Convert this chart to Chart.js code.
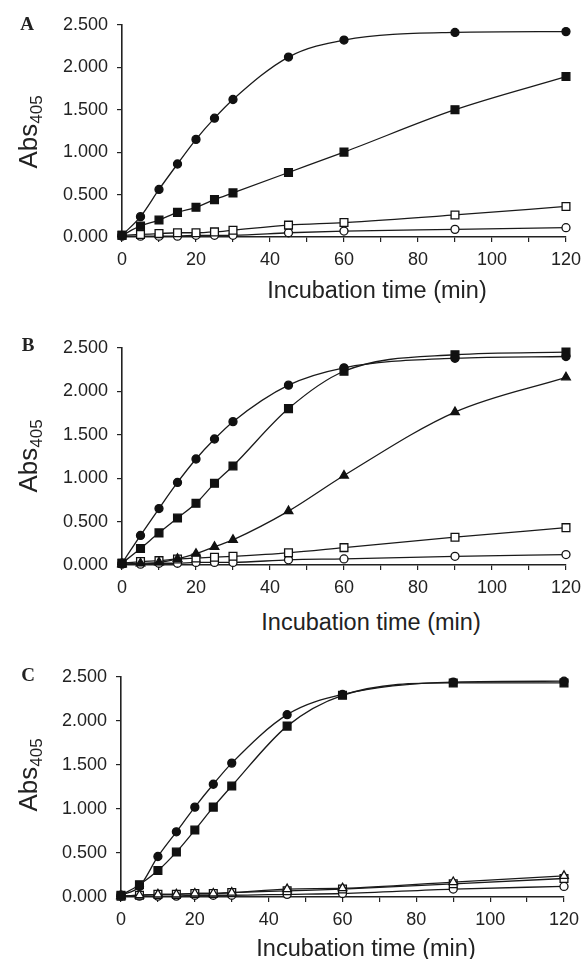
<!DOCTYPE html>
<html>
<head>
<meta charset="utf-8">
<script src="https://cdn.jsdelivr.net/npm/chart.js@4.4.1/dist/chart.umd.min.js"></script>
<style>
    body { margin: 0; background: #fff; }
    #page { position: relative; width: 588px; height: 959px; overflow: hidden; font-family: "Liberation Sans", Arial, sans-serif; color: #222; }
    canvas { position: absolute; left: 0; }
    .letter { position: absolute; font-family: "Liberation Serif", "Times New Roman", serif; font-weight: bold; font-size: 19px; transform: translate(-50%, -50%); }
    .ytitle { position: absolute; font-size: 26px; white-space: nowrap; transform: translate(-50%, -50%) rotate(-90deg); }
    .ytitle sub { font-size: 17px; vertical-align: -5px; }
    .xtitle { position: absolute; font-size: 23.5px; white-space: nowrap; transform: translate(-50%, -50%); }
</style>
</head>
<body>
<div id="page">
    <canvas id="chart-a" width="588" height="272"></canvas>
    <canvas id="chart-b" width="588" height="277"></canvas>
    <canvas id="chart-c" width="588" height="280"></canvas>

    <div class="letter" style="left:27px; top:24px;">A</div>
    <div class="letter" style="left:28px; top:345px;">B</div>
    <div class="letter" style="left:28px; top:675px;">C</div>

    <div class="ytitle" style="left:30px; top:132px;">Abs<sub>405</sub></div>
    <div class="ytitle" style="left:30px; top:456px;">Abs<sub>405</sub></div>
    <div class="ytitle" style="left:30px; top:775px;">Abs<sub>405</sub></div>

    <div class="xtitle" style="left:377px; top:290px;">Incubation time (min)</div>
    <div class="xtitle" style="left:371px; top:622px;">Incubation time (min)</div>
    <div class="xtitle" style="left:366px; top:948px;">Incubation time (min)</div>
</div>

<script>
// sampling times (min)
const times = [0, 5, 10, 15, 20, 25, 30, 45, 60, 90, 120];

// y axis ticks
const yTicks = [0, 0.5, 1, 1.5, 2, 2.5];

// panel A
const aFilledCircle = [0.02, 0.24, 0.56, 0.86, 1.15, 1.40, 1.62, 2.12, 2.32, 2.41, 2.42];
const aFilledSquare = [0.02, 0.13, 0.20, 0.29, 0.35, 0.44, 0.52, 0.76, 1.00, 1.50, 1.89];
const aOpenSquare   = [0.02, 0.03, 0.04, 0.05, 0.05, 0.06, 0.08, 0.14, 0.17, 0.26, 0.36];
const aOpenCircle   = [0.01, 0.01, 0.01, 0.01, 0.02, 0.02, 0.02, 0.05, 0.07, 0.09, 0.11];

// panel B
const bFilledCircle   = [0.02, 0.34, 0.65, 0.95, 1.22, 1.45, 1.65, 2.07, 2.27, 2.38, 2.40];
const bFilledSquare   = [0.02, 0.19, 0.37, 0.54, 0.71, 0.94, 1.14, 1.80, 2.23, 2.42, 2.45];
const bFilledTriangle = [0.01, 0.02, 0.03, 0.07, 0.13, 0.21, 0.29, 0.62, 1.03, 1.76, 2.16];
const bOpenSquare     = [0.02, 0.04, 0.05, 0.07, 0.08, 0.09, 0.10, 0.14, 0.20, 0.32, 0.43];
const bOpenCircle     = [0.01, 0.01, 0.02, 0.02, 0.03, 0.03, 0.03, 0.06, 0.07, 0.10, 0.12];

// panel C
const cFilledCircle = [0.02, 0.12, 0.46, 0.74, 1.02, 1.28, 1.52, 2.07, 2.30, 2.44, 2.45];
const cFilledSquare = [0.02, 0.14, 0.30, 0.51, 0.76, 1.02, 1.26, 1.94, 2.29, 2.43, 2.43];
const cOpenTriangle = [0.01, 0.02, 0.03, 0.03, 0.04, 0.04, 0.05, 0.09, 0.10, 0.17, 0.24];
const cOpenSquare   = [0.01, 0.02, 0.03, 0.03, 0.04, 0.04, 0.05, 0.07, 0.09, 0.15, 0.21];
const cOpenCircle   = [0.01, 0.01, 0.01, 0.01, 0.02, 0.02, 0.02, 0.03, 0.04, 0.09, 0.12];

const markers = {
    filledCircle:   { pointStyle: 'circle',   pointRadius: 4,   fill: '#111' },
    filledSquare:   { pointStyle: 'rect',     pointRadius: 5.5, fill: '#111' },
    filledTriangle: { pointStyle: 'triangle', pointRadius: 5,   fill: '#111' },
    openSquare:     { pointStyle: 'rect',     pointRadius: 5.5, fill: '#fff' },
    openCircle:     { pointStyle: 'circle',   pointRadius: 4,   fill: '#fff' },
    openTriangle:   { pointStyle: 'triangle', pointRadius: 5,   fill: '#fff' }
};

function series(values, kind) {
    const m = markers[kind];
    return {
        data: values.map((v, i) => ({ x: times[i], y: v })),
        borderColor: '#1a1a1a',
        borderWidth: 1.3,
        cubicInterpolationMode: 'monotone',
        pointStyle: m.pointStyle,
        pointRadius: m.pointRadius,
        pointBackgroundColor: m.fill,
        pointBorderColor: '#111',
        pointBorderWidth: 1.3,
        clip: false
    };
}

function makePanel(id, geom, datasets) {
    // geom: plot box edges in page pixels
    const canvas = document.getElementById(id);
    const padTop = 15;
    canvas.style.top = (geom.top - padTop) + 'px';
    canvas.height = padTop + (geom.bottom - geom.top) + 40;

    new Chart(canvas.getContext('2d'), {
        type: 'line',
        data: { datasets: datasets },
        options: {
            responsive: false,
            animation: false,
            layout: {
                autoPadding: false,
                padding: { top: padTop, left: 0, right: 588 - geom.right, bottom: 0 }
            },
            plugins: {
                legend: { display: false },
                tooltip: { enabled: false }
            },
            scales: {
                x: {
                    type: 'linear',
                    min: 0,
                    max: 120,
                    afterFit: function(scale) { scale.height = 40; },
                    border: { display: true, color: '#222', width: 1.6 },
                    grid: { drawOnChartArea: false, drawTicks: true, tickLength: 5, color: '#222', lineWidth: 1.2 },
                    ticks: {
                        stepSize: 10,
                        maxRotation: 0,
                        autoSkip: false,
                        padding: 7,
                        color: '#222',
                        font: { family: '"Liberation Sans", Arial, sans-serif', size: 18 },
                        callback: function(value) { return value % 20 === 0 ? String(value) : ''; }
                    }
                },
                y: {
                    min: 0,
                    max: 2.5,
                    afterFit: function(scale) { scale.width = geom.left; },
                    afterBuildTicks: function(scale) { scale.ticks = yTicks.map(v => ({ value: v })); },
                    border: { display: true, color: '#222', width: 1.6 },
                    grid: { drawOnChartArea: false, drawTicks: true, tickLength: 5, color: '#222', lineWidth: 1.2 },
                    ticks: {
                        padding: 9,
                        color: '#222',
                        font: { family: '"Liberation Sans", Arial, sans-serif', size: 18 },
                        callback: function(value) { return value.toFixed(3); }
                    }
                }
            }
        }
    });
}

makePanel('chart-a', { left: 122, right: 567, top: 20, bottom: 237 }, [
    series(aFilledCircle, 'filledCircle'),
    series(aFilledSquare, 'filledSquare'),
    series(aOpenSquare, 'openSquare'),
    series(aOpenCircle, 'openCircle')
]);

makePanel('chart-b', { left: 122, right: 569, top: 343, bottom: 565 }, [
    series(bFilledCircle, 'filledCircle'),
    series(bFilledSquare, 'filledSquare'),
    series(bFilledTriangle, 'filledTriangle'),
    series(bOpenSquare, 'openSquare'),
    series(bOpenCircle, 'openCircle')
]);

makePanel('chart-c', { left: 121, right: 564, top: 672, bottom: 897 }, [
    series(cFilledCircle, 'filledCircle'),
    series(cFilledSquare, 'filledSquare'),
    series(cOpenTriangle, 'openTriangle'),
    series(cOpenSquare, 'openSquare'),
    series(cOpenCircle, 'openCircle')
]);
</script>
</body>
</html>
